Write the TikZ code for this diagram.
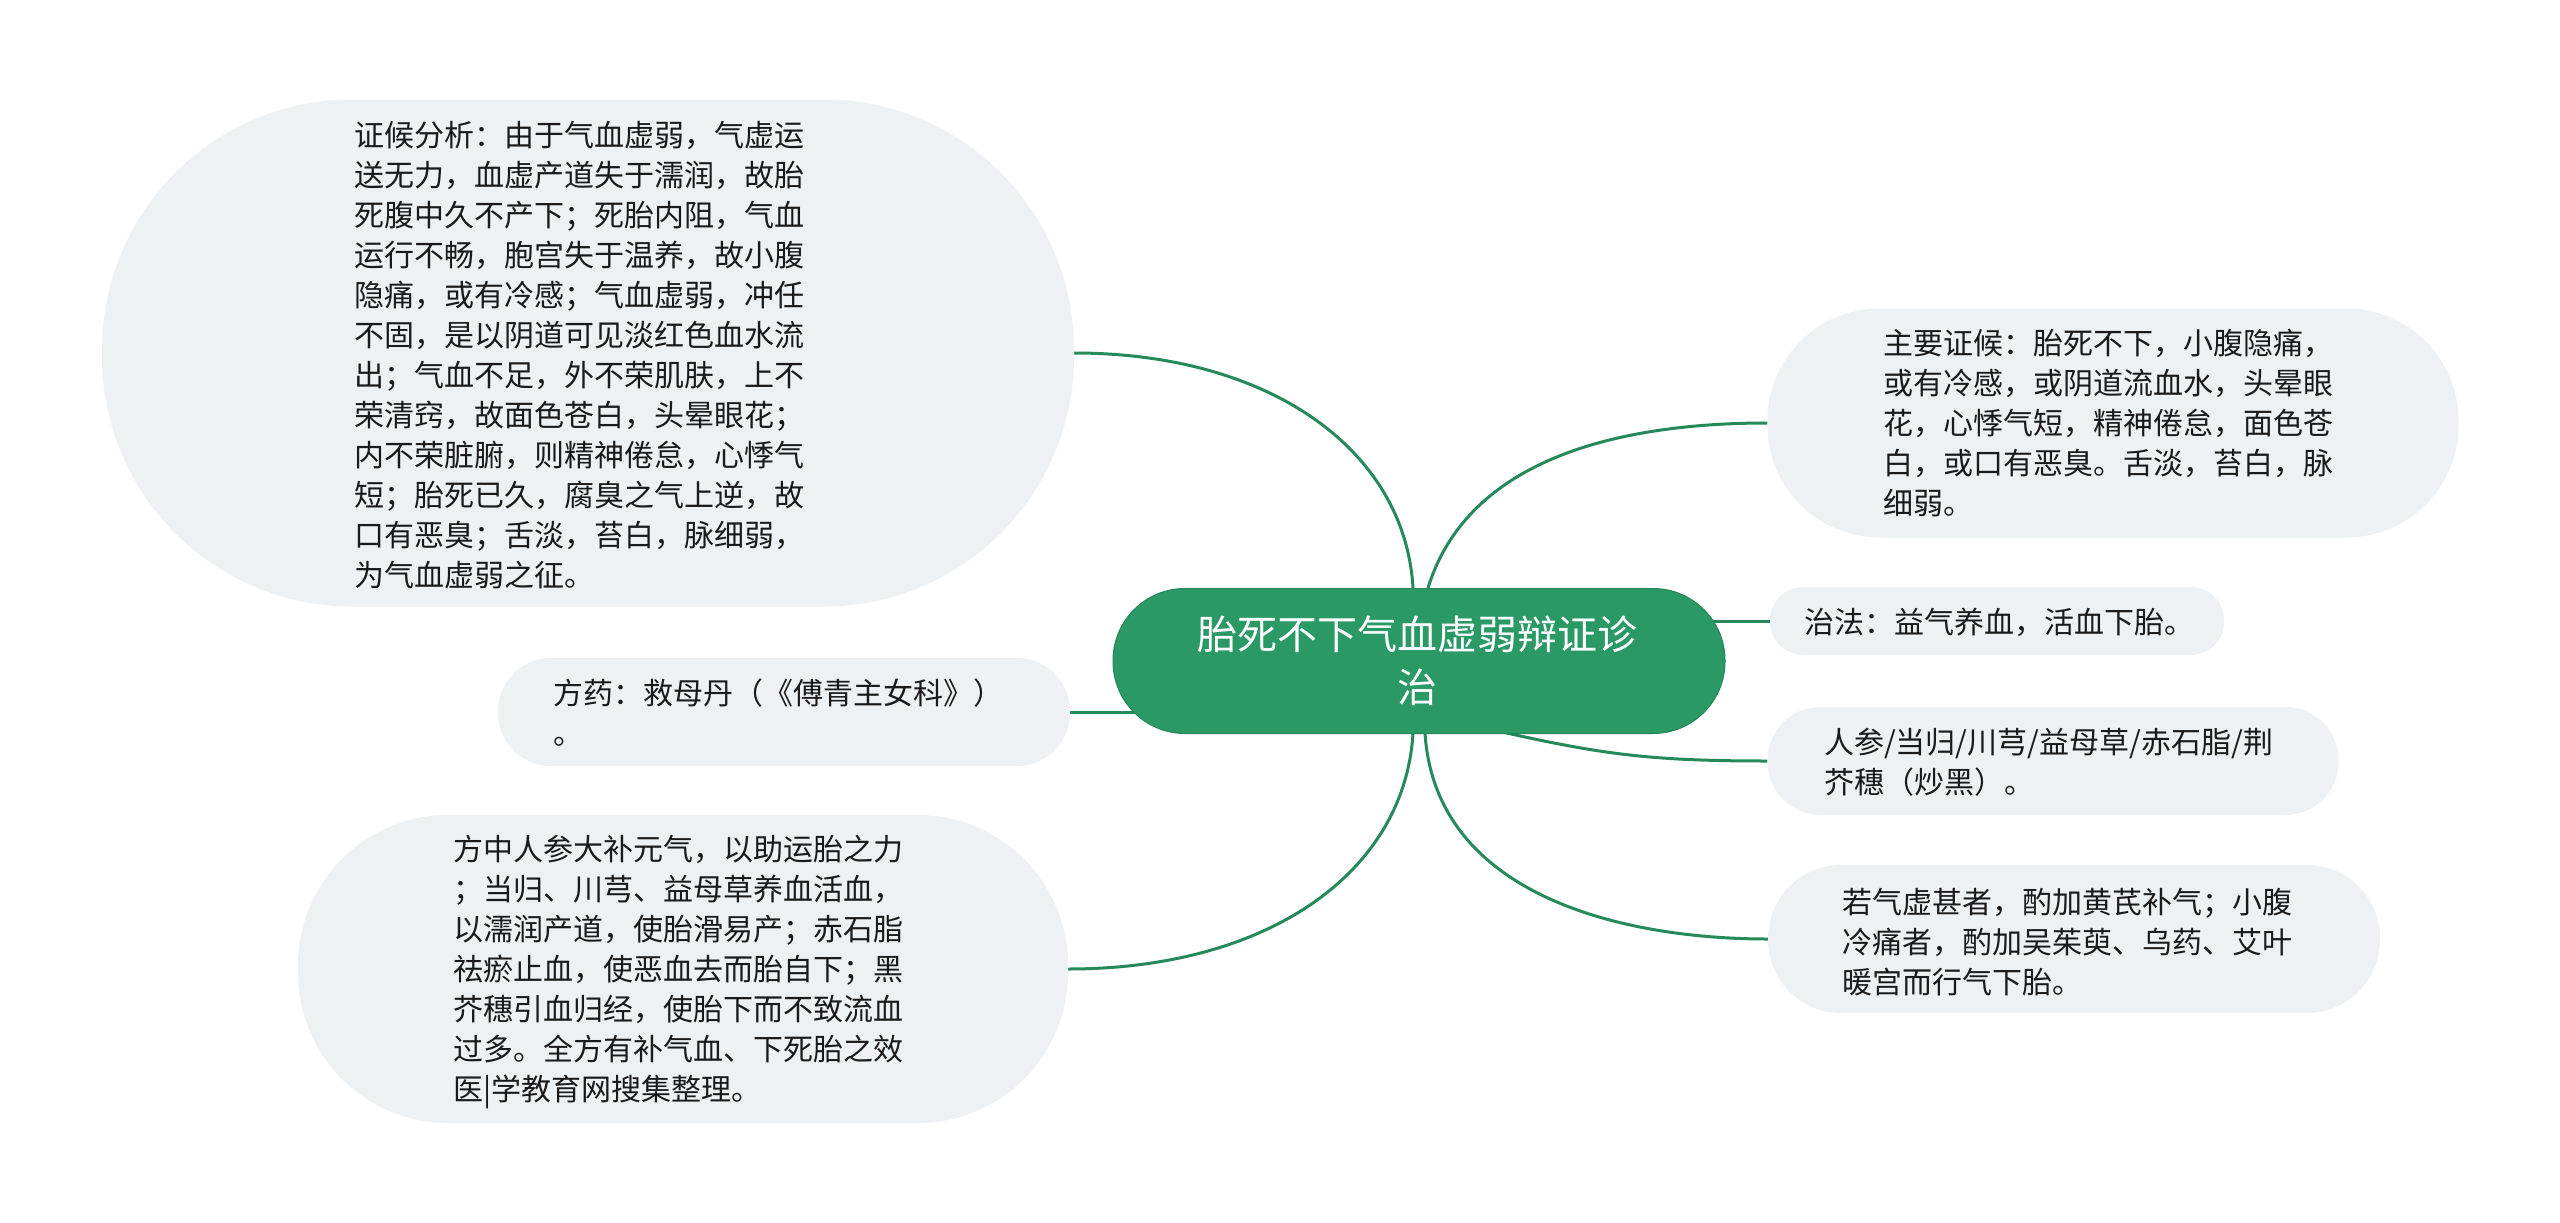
\documentclass[tikz,border=0pt]{standalone}
\usepackage{fontspec}
\newfontfamily\cjk{Noto Sans CJK SC}
\definecolor{mgreen}{HTML}{2A9966}
\definecolor{mgreendark}{HTML}{23875A}
\definecolor{lgreen}{HTML}{26895B}
\definecolor{boxfill}{HTML}{EEF1F4}
\definecolor{txt}{HTML}{1A1A1A}
\pgfdeclarelayer{back}
\pgfdeclarelayer{bg}
\pgfsetlayers{back,bg,main}
\begin{document}
\begin{tikzpicture}[x=1pt,y=-1pt,
  bubble/.style={shape=rectangle, fill=boxfill, draw=none, inner sep=0pt},
  txtnode/.style={font=\cjk\fontsize{30pt}{40pt}\selectfont, text=txt, align=left, inner sep=0pt, anchor=west},
  conn/.style={draw=lgreen, line width=3pt}]
\begin{pgfonlayer}{back}
\fill[white] (0,0) rectangle (2560,1223);
\end{pgfonlayer}
\useasboundingbox (0,0) rectangle (2560,1223);

% central node
\node[shape=rectangle, fill=mgreen, draw=mgreendark, line width=1pt, minimum width=612pt, minimum height=145pt, rounded corners=72pt, inner sep=0pt] (c) at (1419,661) {};
\node[font=\cjk\fontsize{40pt}{53pt}\selectfont, text=white, align=center, inner sep=0pt] (ct) at (1417,661) {胎死不下气血虚弱辩证诊\\治};

% left bubbles
\node[bubble, minimum width=972pt, minimum height=507pt, rounded corners=250pt] (b1) at (588,353) {};
\node[txtnode] (t1) at (354,355) {证候分析：由于气血虚弱，气虚运\\送无力，血虚产道失于濡润，故胎\\死腹中久不产下；死胎内阻，气血\\运行不畅，胞宫失于温养，故小腹\\隐痛，或有冷感；气血虚弱，冲任\\不固，是以阴道可见淡红色血水流\\出；气血不足，外不荣肌肤，上不\\荣清窍，故面色苍白，头晕眼花；\\内不荣脏腑，则精神倦怠，心悸气\\短；胎死已久，腐臭之气上逆，故\\口有恶臭；舌淡，苔白，脉细弱，\\为气血虚弱之征。};

\node[bubble, minimum width=572pt, minimum height=108pt, rounded corners=53pt] (b2) at (784,712) {};
\node[txtnode] (t2) at (553,713) {方药：救母丹（《傅青主女科》）\\。};

\node[bubble, minimum width=770pt, minimum height=308pt, rounded corners=150pt] (b3) at (683,969) {};
\node[txtnode] (t3) at (453,972) {方中人参大补元气，以助运胎之力\\；当归、川芎、益母草养血活血，\\以濡润产道，使胎滑易产；赤石脂\\祛瘀止血，使恶血去而胎自下；黑\\芥穗引血归经，使胎下而不致流血\\过多。全方有补气血、下死胎之效\\医|学教育网搜集整理。};

% right bubbles
\node[bubble, minimum width=691pt, minimum height=229pt, rounded corners=112pt] (r1) at (2113,423) {};
\node[txtnode] (u1) at (1883,423) {主要证候：胎死不下，小腹隐痛，\\或有冷感，或阴道流血水，头晕眼\\花，心悸气短，精神倦怠，面色苍\\白，或口有恶臭。舌淡，苔白，脉\\细弱。};

\node[bubble, minimum width=454pt, minimum height=68pt, rounded corners=33pt] (r2) at (1997,621) {};
\node[txtnode] (u2) at (1804,622) {治法：益气养血，活血下胎。};

\node[bubble, minimum width=571pt, minimum height=108pt, rounded corners=53pt] (r3) at (2053,761) {};
\node[txtnode] (u3) at (1824,762) {人参/当归/川芎/益母草/赤石脂/荆\\芥穗（炒黑）。};

\node[bubble, minimum width=612pt, minimum height=148pt, rounded corners=73pt] (r4) at (2074,939) {};
\node[txtnode] (u4) at (1842,942) {若气虚甚者，酌加黄芪补气；小腹\\冷痛者，酌加吴茱萸、乌药、艾叶\\暖宫而行气下胎。};

% connectors
\begin{pgfonlayer}{bg}
\coordinate (ctl) at (1413,600);
\coordinate (ctr) at (1428,600);
\coordinate (cbl) at (1413,722);
\coordinate (cbr) at (1425,722);
\draw[conn] (ctl) -- (1413,588) .. controls (1405,450) and (1270,353) .. (b1.east);
\draw[conn] (ctr) -- (1428,588) .. controls (1468,458) and (1620,423) .. (r1.west);
\draw[conn] (cbl) -- (1413,733) .. controls (1405,871) and (1270,969) .. (b3.east);
\draw[conn] (cbr) -- (1425,733) .. controls (1435,893) and (1617,939) .. (r4.west);
\draw[conn] ([xshift=70pt,yshift=5pt]c.south) .. controls +(110,25) and +(-120,0) .. (r3.west);
\draw[conn] (c.center |- r2.west) -- (r2.west);
\draw[conn] (b2.east) -- (c.center |- b2.east);
\end{pgfonlayer}
\end{tikzpicture}
\end{document}
